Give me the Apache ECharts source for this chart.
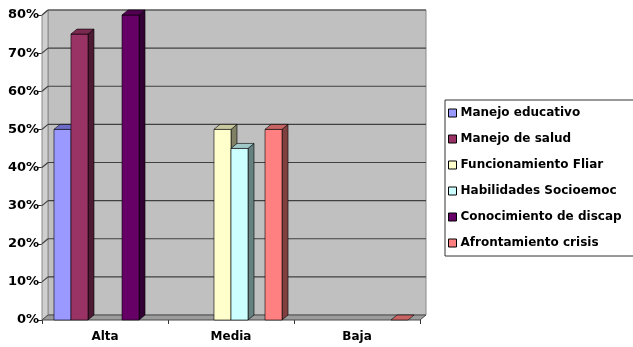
<!DOCTYPE html>
<html lang="es">
<head>
<meta charset="UTF-8">
<title>Niveles por dimensión</title>
<style>
  html, body { margin: 0; padding: 0; background: #fff; }
  #chart { width: 633px; height: 347px; }
</style>
</head>
<body>
<div id="chart"></div>
<script src="https://cdn.jsdelivr.net/npm/echarts@6/dist/echarts.min.js"></script>
<script>
// categorias y valores (%)
const categories = ['Alta', 'Media', 'Baja'];
const seriesNames = ['Manejo educativo', 'Manejo de salud', 'Funcionamiento Fliar',
  'Habilidades Socioemoc', 'Conocimiento de discap', 'Afrontamiento crisis'];
const manejoEducativo = [50, null, null];
const manejoSalud = [75, null, null];
const funcionamientoFliar = [null, 50, null];
const habilidadesSocioemoc = [null, 45, null];
const conocimientoDiscap = [80, null, null];
const afrontamientoCrisis = [null, 50, 0];
const yTicks = [0, 10, 20, 30, 40, 50, 60, 70, 80];

const seriesValues = [manejoEducativo, manejoSalud, funcionamientoFliar,
  habilidadesSocioemoc, conocimientoDiscap, afrontamientoCrisis];

// front / top / side colours
const palette = [
  ['#9999FF', '#6c6cc8', '#4c4c80'],
  ['#993366', '#7a2950', '#4c1a33'],
  ['#FFFFCC', '#c8c8a0', '#808066'],
  ['#CCFFFF', '#a0c8c8', '#668080'],
  ['#660066', '#520052', '#330033'],
  ['#FF8080', '#c86464', '#804040']
];

const DX = 6, DY = -5;       // profundidad 3D
const BAR_RATIO = 0.135;     // ancho de barra / ancho de categoria
const font = 'DejaVu Sans, Liberation Sans, sans-serif';

function barRenderer(i) {
  return function (params, api) {
    const v = api.value(1);
    if (v === null || v === undefined || isNaN(v)) return;
    const cat = api.value(0);
    const base = api.coord([cat, 0]);
    const top = api.coord([cat, v]);
    const bw = api.size([1, 0])[0] * BAR_RATIO;
    const x0 = base[0] + (i - 2.5) * bw - bw / 2;
    const x1 = x0 + bw;
    const c = palette[i];
    const line = { stroke: '#000', lineWidth: 0.6 };
    const children = [];
    if (base[1] - top[1] > 0) {
      children.push({
        type: 'polygon',
        shape: { points: [[x1, top[1]], [x1 + DX, top[1] + DY], [x1 + DX, base[1] + DY], [x1, base[1]]] },
        style: Object.assign({ fill: c[2] }, line)
      });
      children.push({
        type: 'rect',
        shape: { x: x0, y: top[1], width: bw, height: base[1] - top[1] },
        style: Object.assign({ fill: c[0] }, line)
      });
    }
    children.push({
      type: 'polygon',
      shape: { points: [[x0, top[1]], [x0 + DX, top[1] + DY], [x1 + DX, top[1] + DY], [x1, top[1]]] },
      style: Object.assign({ fill: c[1] }, line)
    });
    return { type: 'group', children: children };
  };
}

function wallRenderer(params, api) {
  const cs = params.coordSys;
  const x = cs.x, y = cs.y, w = cs.width, h = cs.height;
  const children = [
    { type: 'rect', shape: { x: x + DX, y: y + DY, width: w, height: h },
      style: { fill: '#C0C0C0', stroke: '#8a8a8a', lineWidth: 1 } },
    { type: 'polygon', shape: { points: [[x, y], [x + DX, y + DY], [x + DX, y + h + DY], [x, y + h]] },
      style: { fill: '#cfcfcf', stroke: '#8a8a8a', lineWidth: 1 } }
  ];
  yTicks.forEach(function (t) {
    if (t === 0) return;
    const yy = api.coord([0, t])[1];
    children.push({ type: 'line', shape: { x1: x + DX, y1: yy + DY, x2: x + w + DX, y2: yy + DY },
      style: { stroke: '#404040', lineWidth: 1.2 } });
    children.push({ type: 'line', shape: { x1: x, y1: yy, x2: x + DX, y2: yy + DY },
      style: { stroke: '#404040', lineWidth: 1.2 } });
  });
  children.push({ type: 'polygon',
    shape: { points: [[x, y + h], [x + DX, y + h + DY], [x + w + DX, y + h + DY], [x + w, y + h]] },
    style: { fill: '#9c9c9c', stroke: '#4a4a4a', lineWidth: 1 } });
  return { type: 'group', children: children };
}

const chart = echarts.init(document.getElementById('chart'));

const series = [{
  name: 'walls',
  type: 'custom',
  renderItem: wallRenderer,
  data: [[0, 0]],
  silent: true,
  z: 1
}];
seriesNames.forEach(function (name, i) {
  series.push({
    name: name,
    type: 'custom',
    renderItem: barRenderer(i),
    itemStyle: { color: palette[i][0] },
    encode: { x: 0, y: 1 },
    data: seriesValues[i].map(function (v, k) { return [k, v]; }),
    z: 2 + i
  });
});

chart.setOption({
  animation: false,
  textStyle: { fontFamily: font },
  grid: { left: 42, right: 213, top: 15, bottom: 27 },
  legend: {
    data: seriesNames,
    orient: 'vertical',
    left: 445,
    top: 100,
    itemWidth: 8,
    itemHeight: 8,
    itemGap: 12,
    padding: [6, 12, 6, 3],
    backgroundColor: '#fff',
    borderColor: '#333',
    borderWidth: 1,
    borderRadius: 0,
    icon: 'rect',
    itemStyle: { borderColor: '#000', borderWidth: 1 },
    textStyle: { fontFamily: font, fontSize: 12, fontWeight: 'bold', color: '#000', lineHeight: 14, padding: [0, 0, 0, -1] }
  },
  xAxis: {
    type: 'category',
    data: categories,
    axisLine: { show: false },
    axisTick: { show: true, length: 4, lineStyle: { color: '#333' } },
    axisLabel: { fontFamily: font, fontSize: 12, fontWeight: 'bold', color: '#000', margin: 11 },
    splitLine: { show: false }
  },
  yAxis: {
    type: 'value',
    min: 0,
    max: 80,
    interval: 10,
    axisLine: { show: false },
    axisTick: { show: true, length: 4, lineStyle: { color: '#333' } },
    axisLabel: { formatter: '{value}%', fontFamily: font, fontSize: 13, fontWeight: 'bold', color: '#000', margin: 3 },
    splitLine: { show: false }
  },
  series: series
});
</script>
</body>
</html>
